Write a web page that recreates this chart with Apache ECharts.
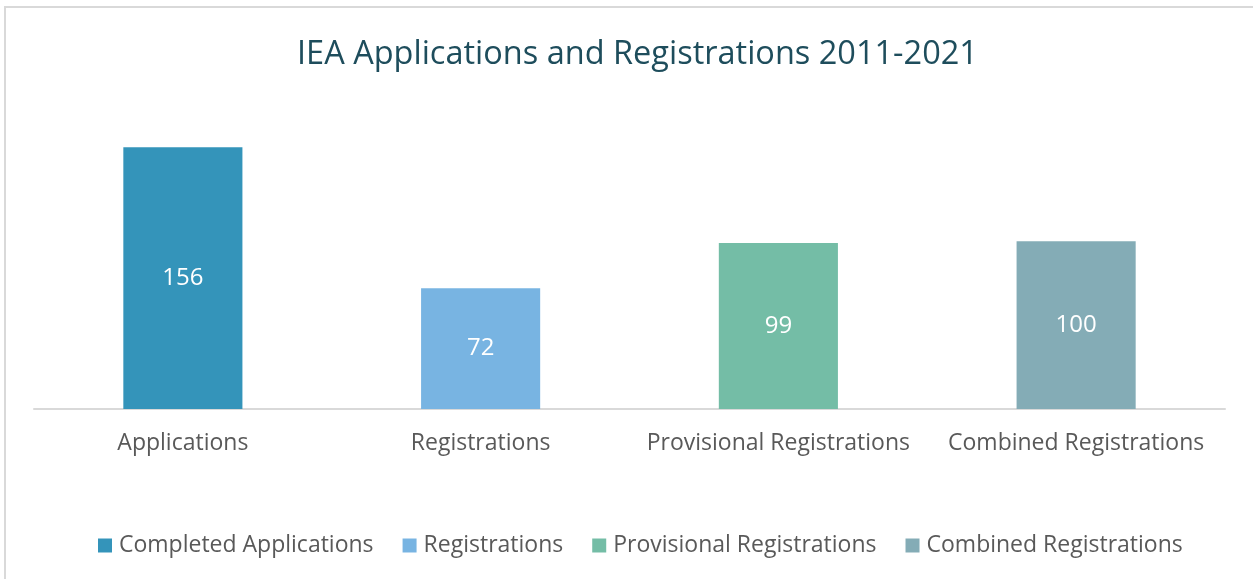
<!DOCTYPE html>
<html>
<head>
<meta charset="utf-8">
<script src="https://cdn.jsdelivr.net/npm/echarts@6/dist/echarts.min.js"></script>
<style>
  html, body { margin: 0; padding: 0; background: #fff; overflow: hidden; width: 1253px; height: 579px; }
  #frame { position: absolute; left: 4px; top: 6px; width: 1400px; height: 700px; border-top: 2px solid #d9d9d9; border-left: 2px solid #d9d9d9; }
  #chart { position: absolute; left: 0; top: 0; width: 1253px; height: 579px; }
</style>
</head>
<body>
<div id="frame"></div>
<div id="chart"></div>
<script>
var categories = ['Applications', 'Registrations', 'Provisional Registrations', 'Combined Registrations'];
var seriesNames = ['Completed Applications', 'Registrations', 'Provisional Registrations', 'Combined Registrations'];
var completedApplications = [156, null, null, null];
var registrations = [null, 72, null, null];
var provisionalRegistrations = [null, null, 99, null];
var combinedRegistrations = [null, null, null, 100];
var colors = ['#3494ba', '#78b4e2', '#74bda6', '#84acb6'];

var font = '"Open Sans", "Noto Sans", sans-serif';

function makeSeries(name, data, color) {
    return {
        name: name,
        type: 'bar',
        stack: 'all',
        barWidth: '40%',
        data: data,
        itemStyle: { color: color },
        label: {
            show: true,
            position: 'inside',
            color: '#fff',
            fontSize: 24,
            fontFamily: font,
            formatter: function (p) { return p.value == null ? '' : p.value; }
        }
    };
}

var chart = echarts.init(document.getElementById('chart'));
var option = {
    backgroundColor: 'transparent',
    animation: false,
    color: colors,
    title: {
        text: 'IEA Applications and Registrations 2011-2021',
        left: 292,
        top: 33,
        textStyle: { color: '#1e4d5c', fontSize: 32.5, fontWeight: 'normal', fontFamily: font }
    },
    legend: {
        bottom: 17,
        left: 93,
        itemWidth: 14,
        itemHeight: 14,
        itemGap: 29,
        icon: 'rect',
        data: seriesNames,
        textStyle: { color: '#595959', fontSize: 23, fontFamily: font, padding: [0, 0, 0, 2] }
    },
    grid: { left: 34, right: 28, top: 107, bottom: 170, containLabel: false },
    xAxis: {
        type: 'category',
        data: categories,
        axisLine: { lineStyle: { color: '#d9d9d9', width: 2 } },
        axisTick: { show: false },
        axisLabel: { color: '#595959', fontSize: 23, fontFamily: font, margin: 23, interval: 0 }
    },
    yAxis: {
        type: 'value',
        min: 0,
        max: 180,
        show: false,
        splitLine: { show: false }
    },
    series: [
        makeSeries(seriesNames[0], completedApplications, colors[0]),
        makeSeries(seriesNames[1], registrations, colors[1]),
        makeSeries(seriesNames[2], provisionalRegistrations, colors[2]),
        makeSeries(seriesNames[3], combinedRegistrations, colors[3])
    ]
};
chart.setOption(option);
</script>
</body>
</html>
